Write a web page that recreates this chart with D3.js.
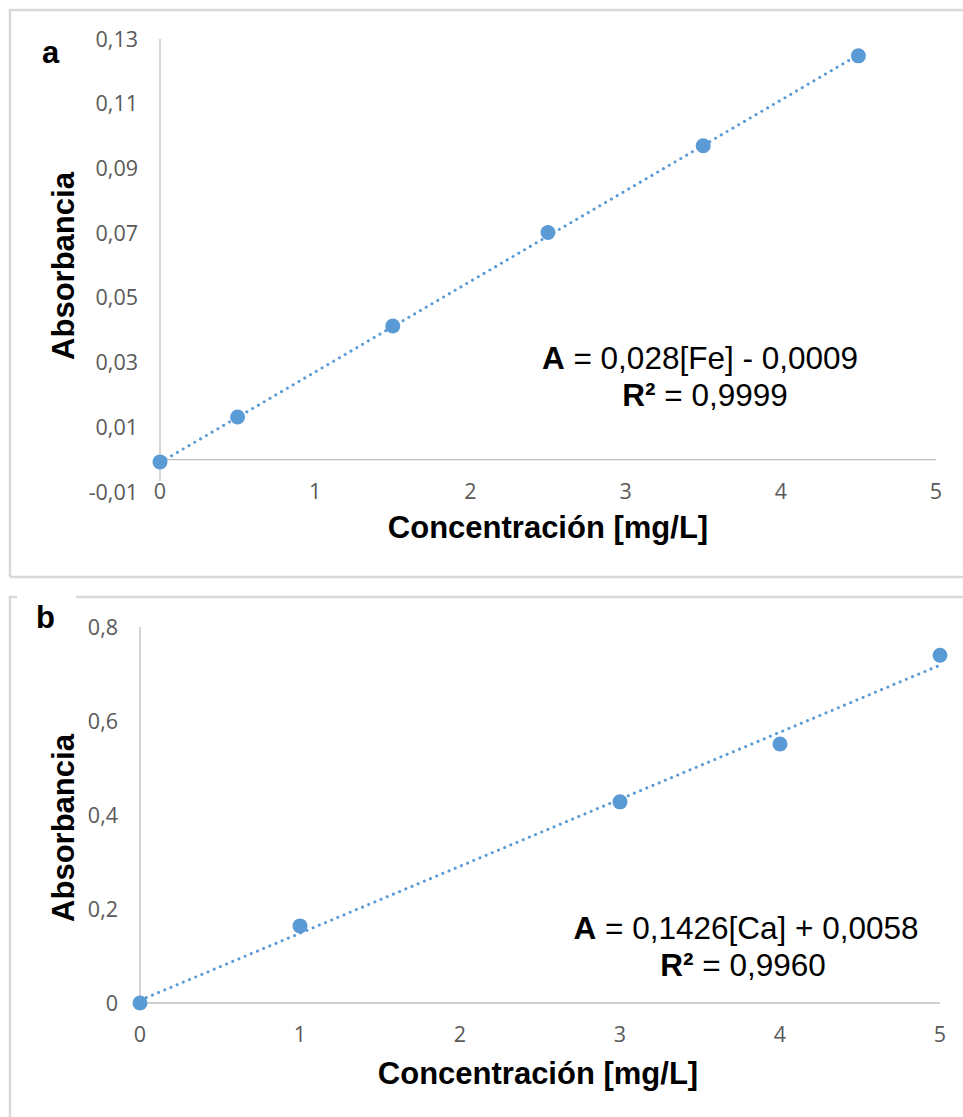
<!DOCTYPE html>
<html><head><meta charset="utf-8">
<script src="https://cdn.jsdelivr.net/npm/d3@7"></script>
<style>body{margin:0;background:#fff}svg{display:block}</style>
</head><body>
<script>
// Panel a (Fe)
const feConc = [0, 0.5, 1.5, 2.5, 3.5, 4.5];
const feAbs = [-0.0007, 0.0132, 0.0413, 0.0702, 0.0970, 0.1248];
const feYTicks = [-0.01, 0.01, 0.03, 0.05, 0.07, 0.09, 0.11, 0.13];
const feFit = {slope: 0.028, intercept: -0.0009};
// Panel b (Ca)
const caConc = [0, 1, 3, 4, 5];
const caAbs = [0.0, 0.164, 0.428, 0.551, 0.740];
const caYTicks = [0, 0.2, 0.4, 0.6, 0.8];
const caFit = {slope: 0.1426, intercept: 0.0058};
const xTicks = [0, 1, 2, 3, 4, 5];

const W = 963, H = 1117;
const svg = d3.select("body").append("svg").attr("width", W).attr("height", H);
const loc = d3.formatLocale({decimal: ",", thousands: ".", grouping: [3], currency: ["", ""], minus: "-"});
const blue = "#5b9bd5", gray = "#595959", axisCol = "#bfbfbf", frameCol = "#d9d9d9";
const tickFont = "'Open Sans', 'Noto Sans', sans-serif";
const boldFont = "'Liberation Sans', Arial, sans-serif";
const tickSize = 21.5, titleSize = 31, eqSize = 31.5;

function panel(o) {
  const g = svg.append("g");
  // frame
  g.append("path").attr("d", `M${o.frame[0]},${o.frame[3]} L${o.frame[0]},${o.frame[1]} L${o.frame[2]},${o.frame[1]}` + (o.frameBottom ? ` M${o.frame[0]},${o.frame[3]} L${o.frame[2]},${o.frame[3]}` : ""))
    .attr("fill", "none").attr("stroke", frameCol).attr("stroke-width", 2.5);
  const x = d3.scaleLinear().domain([0, 5]).range(o.xr);
  const y = d3.scaleLinear().domain(o.yd).range(o.yr);
  const y0 = y(0);
  // axes lines
  g.append("line").attr("x1", x(0)).attr("x2", x(5)).attr("y1", y0).attr("y2", y0).attr("stroke", axisCol).attr("stroke-width", 1.3);
  g.append("line").attr("x1", x(0)).attr("x2", x(0)).attr("y1", y(o.yd[1])).attr("y2", o.yLineEnd).attr("stroke", axisCol).attr("stroke-width", 1.3);
  // y tick labels
  g.selectAll(".yt").data(o.yTicks).join("text")
    .attr("x", x(0) - 22).attr("y", d => y(d)).attr("dy", "0.35em")
    .attr("text-anchor", "end").attr("fill", gray).attr("font-family", tickFont).attr("font-size", tickSize)
    .text(o.yfmt);
  // x tick labels
  g.selectAll(".xt").data(xTicks).join("text")
    .attr("x", d => x(d)).attr("y", o.xLabelY).attr("dy", "0.35em")
    .attr("text-anchor", "middle").attr("fill", gray).attr("font-family", tickFont).attr("font-size", tickSize)
    .text(d => d);
  // trend line
  const xs = [d3.min(o.conc), d3.max(o.conc)];
  g.append("line")
    .attr("x1", x(xs[0])).attr("y1", y(o.fit.intercept + o.fit.slope * xs[0]))
    .attr("x2", x(xs[1])).attr("y2", y(o.fit.intercept + o.fit.slope * xs[1]))
    .attr("stroke", blue).attr("stroke-width", 3).attr("stroke-linecap", "round").attr("stroke-dasharray", "0.1 6.6");
  // points
  g.selectAll(".pt").data(o.conc.map((c, i) => [c, o.abs[i]])).join("circle")
    .attr("cx", d => x(d[0])).attr("cy", d => y(d[1])).attr("r", 7.5).attr("fill", blue);
  // panel letter with white mask over frame
  if (o.mask) g.append("rect").attr("x", o.mask[0]).attr("y", o.mask[1]).attr("width", o.mask[2]).attr("height", o.mask[3]).attr("fill", "#fff");
  g.append("text").attr("x", o.letter[0]).attr("y", o.letter[1]).attr("font-family", boldFont).attr("font-weight", "bold").attr("font-size", titleSize).attr("fill", "#000").text(o.letterText);
  // axis titles
  g.append("text").attr("transform", `translate(${o.yTitle[0]},${o.yTitle[1]}) rotate(-90)`).attr("text-anchor", "middle")
    .attr("font-family", boldFont).attr("font-weight", "bold").attr("font-size", titleSize).attr("fill", "#000").text("Absorbancia");
  g.append("text").attr("x", o.xTitle[0]).attr("y", o.xTitle[1]).attr("text-anchor", "middle")
    .attr("font-family", boldFont).attr("font-weight", "bold").attr("font-size", titleSize).attr("fill", "#000").text("Concentración [mg/L]");
  // equation
  const t1 = g.append("text").attr("x", o.eq[0]).attr("y", o.eq[1]).attr("text-anchor", "middle").attr("font-family", boldFont).attr("font-size", eqSize).attr("fill", "#000");
  t1.append("tspan").attr("font-weight", "bold").text("A");
  t1.append("tspan").text(" = " + o.eqText);
  const t2 = g.append("text").attr("x", o.eq[0] + o.r2dx).attr("y", o.eq[1] + 37).attr("text-anchor", "middle").attr("font-family", boldFont).attr("font-size", eqSize).attr("fill", "#000");
  t2.append("tspan").attr("font-weight", "bold").text("R²");
  t2.append("tspan").text(" = " + o.r2);
}

const fmt2 = loc.format(".2f"), fmt1 = loc.format(".1f");
panel({
  frame: [10, 10, 980, 577], frameBottom: true,
  xr: [160, 936], yd: [-0.01, 0.13], yr: [492, 39], yLineEnd: 481,
  yTicks: feYTicks, yfmt: d => fmt2(d), xLabelY: 491,
  conc: feConc, abs: feAbs, fit: feFit,
  letter: [42, 63], letterText: "a", mask: null,
  yTitle: [74, 266], xTitle: [548, 538],
  eq: [700, 369], eqText: "0,028[Fe] - 0,0009", r2: "0,9999", r2dx: 5
});
panel({
  frame: [10, 597, 980, 1130], frameBottom: false,
  xr: [140, 940], yd: [0, 0.8], yr: [1003, 627], yLineEnd: 1003,
  yTicks: caYTicks, yfmt: d => d === 0 ? "0" : fmt1(d), xLabelY: 1034,
  conc: caConc, abs: caAbs, fit: caFit,
  letter: [36, 628], letterText: "b", mask: [17, 594, 59, 8],
  yTitle: [74, 828], xTitle: [538, 1084],
  eq: [746, 939], eqText: "0,1426[Ca] + 0,0058", r2: "0,9960", r2dx: -3
});
</script>
</body></html>
